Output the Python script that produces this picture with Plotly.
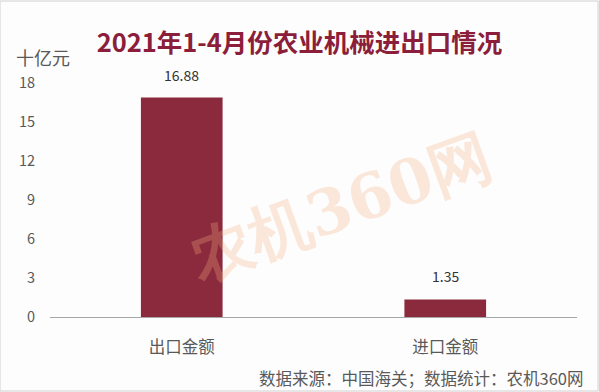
import plotly.graph_objects as go

categories = ["出口金额", "进口金额"]
values = [16.88, 1.35]
value_labels = ["16.88", "1.35"]
y_ticks = [0, 3, 6, 9, 12, 15, 18]

bar_color = "#8C2A3D"
text_color = "#595959"
font_family = "Noto Sans CJK SC, Noto Sans, sans-serif"

fig = go.Figure()
fig.add_trace(go.Bar(
    x=categories, y=values, marker=dict(color=bar_color, line=dict(width=0)),
    width=0.31, hoverinfo="skip",
))

for c, v, lab in zip(categories, values, value_labels):
    fig.add_annotation(x=c, y=v, text=lab, showarrow=False, yanchor="bottom",
                       yshift=11, font=dict(size=14, color="#333333", family=font_family))

# watermark
fig.add_annotation(xref="paper", yref="paper", x=0.55, y=0.47, text="<b>农机360网</b>",
                   showarrow=False, textangle=-20, opacity=0.28,
                   font=dict(size=62, color="#F4B183", family="DejaVu Serif, serif"))

fig.update_layout(
    width=599, height=392,
    margin=dict(l=50, r=22, t=83, b=75),
    paper_bgcolor="#FDFDFD", plot_bgcolor="#FDFDFD",
    showlegend=False,
    font=dict(family=font_family, color=text_color),
    title=dict(text="<b>2021年1-4月份农业机械进出口情况</b>", x=0.5, xanchor="center",
               y=0.89, yanchor="middle",
               font=dict(size=25.5, color="#8B1E3A", family=font_family)),
    xaxis=dict(showline=True, linecolor="#A6A6A6", linewidth=1, ticks="",
               tickfont=dict(size=16.5, color=text_color), ticklabelstandoff=15,
               showgrid=False, zeroline=False, fixedrange=True),
    yaxis=dict(range=[0, 18], tickvals=y_ticks, showgrid=False, zeroline=False,
               showline=False, ticks="", tickfont=dict(size=14.5, color=text_color),
               ticklabelstandoff=14, fixedrange=True),
    shapes=[dict(type="rect", xref="paper", yref="paper", x0=-50/527, x1=1+21/527,
                 y0=-74/234, y1=1+82/234, line=dict(color="#D0D0D0", width=1))],
)

fig.add_annotation(xref="paper", yref="paper", x=-36/527, y=1+26/234, text="十亿元",
                   showarrow=False, xanchor="left", yanchor="middle",
                   font=dict(size=18, color=text_color, family=font_family))
fig.add_annotation(xref="paper", yref="paper", x=1+8/527, y=-61/234,
                   text="数据来源：中国海关；数据统计：农机360网",
                   showarrow=False, xanchor="right", yanchor="middle",
                   font=dict(size=16.5, color=text_color, family=font_family))

fig.write_html("out.html")
